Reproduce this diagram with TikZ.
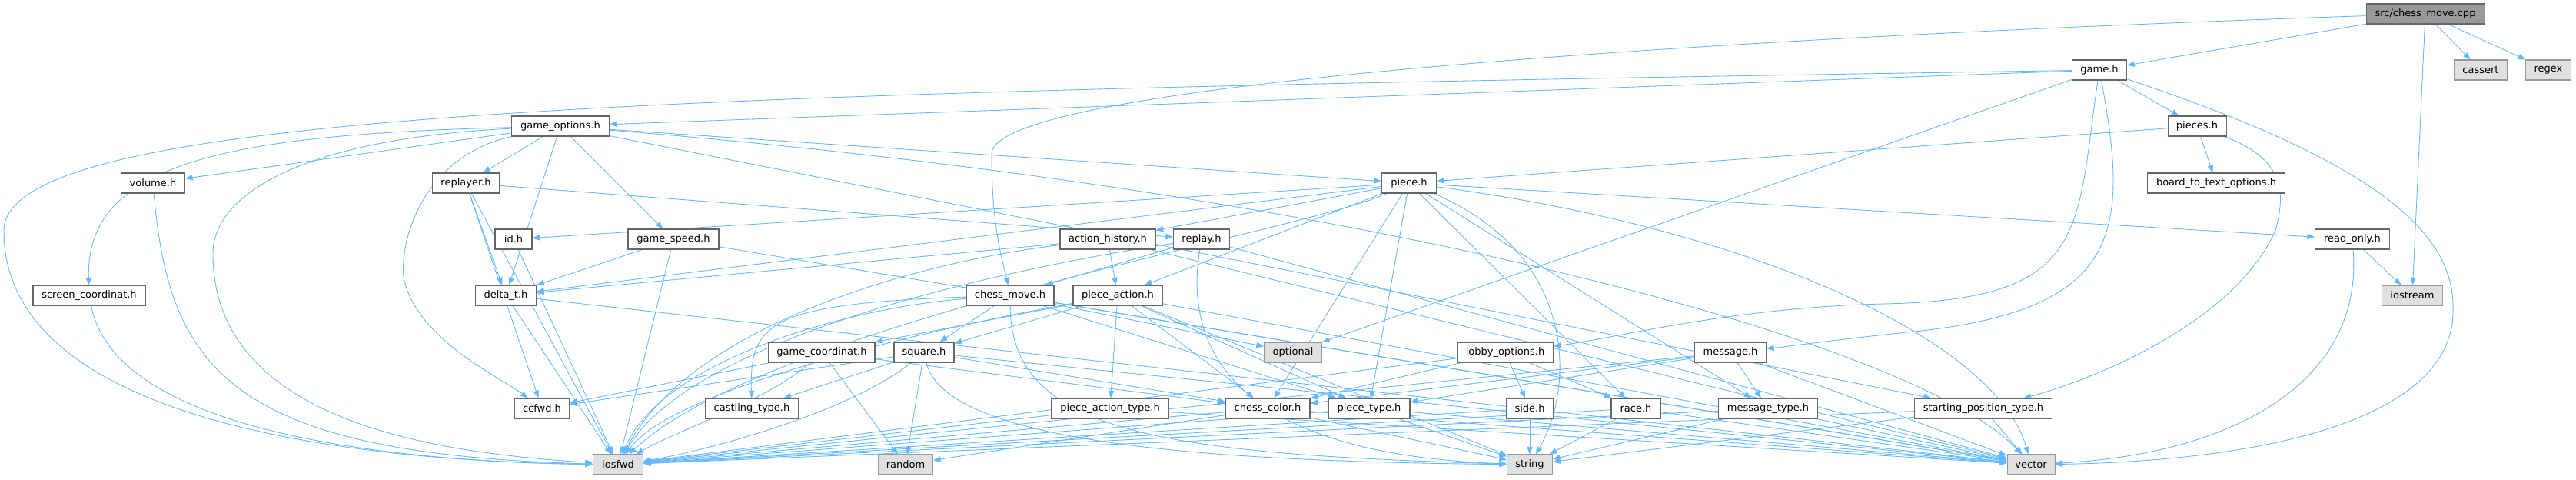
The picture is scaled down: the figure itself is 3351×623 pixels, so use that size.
\documentclass[tikz,border=0pt]{standalone}
\usepackage{fontspec}
\setmainfont{DejaVu Sans}
\usetikzlibrary{arrows.meta}
\definecolor{edge}{HTML}{63B8FF}
\definecolor{boxline}{HTML}{666666}
\definecolor{sysline}{HTML}{999999}
\definecolor{sysfill}{HTML}{E0E0E0}
\definecolor{hdrfill}{HTML}{999999}
\pgfdeclarelayer{edges}
\pgfsetlayers{edges,main}
\tikzset{
  file/.style={draw=boxline, fill=white, line width=0.6pt, minimum height=0.52cm, inner sep=1pt},
  sys/.style={file, draw=sysline, fill=sysfill},
  hdr/.style={file, fill=hdrfill},
  wd/.style={minimum width=#1*0.02cm},
  dep/.style={draw=edge, line width=0.5pt, -{Triangle[length=5.5pt,width=4.2pt]}},
}

\begin{document}
\begin{tikzpicture}[x=0.02cm, y=-0.02cm, font=\fontsize{7.4}{9}\selectfont]
  \useasboundingbox (0,0) rectangle (3351,623);
  % the file itself
  \node[hdr, wd=154] (cpp) at (3155,18) {src/chess\_move.cpp};
  % headers: name / x / y / width / label / style
  \foreach \n/\x/\y/\w/\t/\s in {
     game/2731/91/71/game.h/file,
     cassert/3227/91/69/cassert/sys,
     regex/3315/91/59/regex/sys,
     gameopt/729/164/127/game\_options.h/file,
     pieces/2858/164/76/pieces.h/file,
     volume/199/238/83/volume.h/file,
     replayer/606/238/87/replayer.h/file,
     piece/1833/238/71/piece.h/file,
     btto/2883/238/179/board\_to\_text\_options.h/file,
     id/668/311/48/id.h/file,
     gamespeed/876/311/118/game\_speed.h/file,
     acthist/1441/311/124/action\_history.h/file,
     replay/1563/311/73/replay.h/file,
     readonly/3060/311/97/read\_only.h/file,
     screen/116/384/146/screen\_coordinat.h/file,
     deltat/658/384/79/delta\_t.h/file,
     chessmove/1314/384/114/chess\_move.h/file,
     pieceact/1454/384/116/piece\_action.h/file,
     iostream/3138/384/79/iostream/sys,
     gamecoord/1069/458/138/game\_coordinat.h/file,
     square/1202/458/78/square.h/file,
     optional/1682/458/75/optional/sys,
     lobby/1958/458/125/lobby\_options.h/file,
     message/2251/458/93/message.h/file,
     ccfwd/705/531/71/ccfwd.h/file,
     castling/978/531/121/castling\_type.h/file,
     pieceacttype/1444/531/152/piece\_action\_type.h/file,
     color/1649/531/110/chess\_color.h/file,
     piecetype/1781/531/106/piece\_type.h/file,
     side/1990/531/61/side.h/file,
     race/2128/531/64/race.h/file,
     msgtype/2300/531/129/message\_type.h/file,
     startpos/2580/531/179/starting\_position\_type.h/file,
     iosfwd/804/604/65/iosfwd/sys,
     random/1178/604/71/random/sys,
     string/1990/604/59/string/sys,
     vector/2642/604/62/vector/sys}{
       \node[\s, wd=\w] (\n) at (\x,\y) {\t};
  }
  \begin{pgfonlayer}{edges}
  % direct includes
  \foreach \a/\b in {
     cpp/game, cpp/cassert, cpp/regex, cpp/iostream,
     game/gameopt, game/pieces, game/optional,
     gameopt/volume, gameopt/replayer, gameopt/deltat, gameopt/gamespeed,
     gameopt/piece, gameopt/startpos,
     pieces/piece, pieces/btto,
     replayer/replay, replayer/deltat, replayer/ccfwd, replayer/iosfwd,
     piece/id, piece/deltat, piece/acthist, piece/pieceact, piece/readonly,
     piece/color, piece/piecetype, piece/race, piece/msgtype,
     gamespeed/deltat, gamespeed/iosfwd, gamespeed/vector,
     acthist/pieceact, acthist/deltat, acthist/vector,
     replay/chessmove, replay/vector,
     readonly/iostream, id/iosfwd, deltat/iosfwd, deltat/vector,
     chessmove/square, chessmove/optional, chessmove/piecetype, chessmove/vector,
     pieceact/square, pieceact/gamecoord, pieceact/pieceacttype,
     pieceact/color, pieceact/piecetype, pieceact/string, pieceact/vector,
     square/castling, square/ccfwd, square/random, square/color, square/vector,
     gamecoord/ccfwd, gamecoord/random, gamecoord/color,
     lobby/color, lobby/side, lobby/race, lobby/iosfwd,
     message/piecetype, message/color, message/msgtype, message/vector,
     message/iosfwd,
     color/random, color/string, color/vector, color/iosfwd,
     piecetype/string, piecetype/vector, piecetype/iosfwd,
     pieceacttype/vector, pieceacttype/iosfwd,
     side/string, side/iosfwd,
     race/string, race/vector, race/iosfwd,
     msgtype/string, msgtype/vector, msgtype/iosfwd,
     startpos/string, startpos/vector, startpos/iosfwd}{
       \draw[dep] (\a) -- (\b);
  }
  % long routed ones
  \draw[dep] (cpp) .. controls (2200,50) and (1290,110) .. (1290,200) .. controls (1290,300) and (1305,340) .. (chessmove);
  \draw[dep] (game) .. controls (900,120) and (5,140) .. (5,300) .. controls (5,560) and (500,600) .. (iosfwd);
  \draw[dep] (game) .. controls (3150,230) and (3200,330) .. (3190,420) .. controls (3170,560) and (2900,600) .. (vector);
  \draw[dep] (game) .. controls (2700,300) and (2720,390) .. (2450,395) .. controls (2250,400) and (2100,440) .. (lobby);
  \draw[dep] (game) .. controls (2770,300) and (2760,400) .. (2500,430) .. controls (2400,440) and (2330,450) .. (message);
  \draw[dep] (gameopt) .. controls (400,180) and (277,250) .. (277,330) .. controls (277,560) and (600,590) .. (iosfwd);
  \draw[dep] (gameopt) .. controls (300,175) and (111,210) .. (screen);
  \draw[dep] (gameopt) .. controls (560,200) and (520,300) .. (525,360) .. controls (540,440) and (650,490) .. (ccfwd);
  \draw[dep] (gameopt) .. controls (1800,250) and (2500,450) .. (vector);
  \draw[dep] (volume) .. controls (220,480) and (300,590) .. (iosfwd);
  \draw[dep] (screen) .. controls (150,560) and (500,600) .. (iosfwd);
  \draw[dep] (pieces) .. controls (2980,210) and (2970,260) .. (2960,300) .. controls (2900,430) and (2700,500) .. (startpos);
  \draw[dep] (readonly) .. controls (3075,500) and (2900,590) .. (vector);
  \draw[dep] (piece) .. controls (1700,300) and (1000,420) .. (iosfwd);
  \draw[dep] (acthist) .. controls (1200,340) and (900,420) .. (iosfwd);
  \draw[dep] (replay) .. controls (1300,350) and (900,440) .. (iosfwd);
  \draw[dep] (chessmove) .. controls (1000,395) and (975,420) .. (castling);
  \draw[dep] (chessmove) .. controls (1100,400) and (860,470) .. (iosfwd);
  \draw[dep] (pieceact) .. controls (1250,420) and (880,500) .. (iosfwd);
  \draw[dep] (square) .. controls (1100,540) and (900,590) .. (iosfwd);
  \draw[dep] (gamecoord) .. controls (1000,520) and (880,560) .. (iosfwd);
  \draw[dep] (chessmove) .. controls (1315,560) and (1500,590) .. (string);
  \draw[dep] (square) .. controls (1230,580) and (1600,600) .. (string);
  \draw[dep] (piece) .. controls (2050,330) and (2050,500) .. (string);
  \draw[dep] (piece) .. controls (2300,300) and (2600,450) .. (vector);
  \draw[dep] (replay) .. controls (1540,450) and (1600,590) .. (string);
  \end{pgfonlayer}
\end{tikzpicture}
\end{document}
